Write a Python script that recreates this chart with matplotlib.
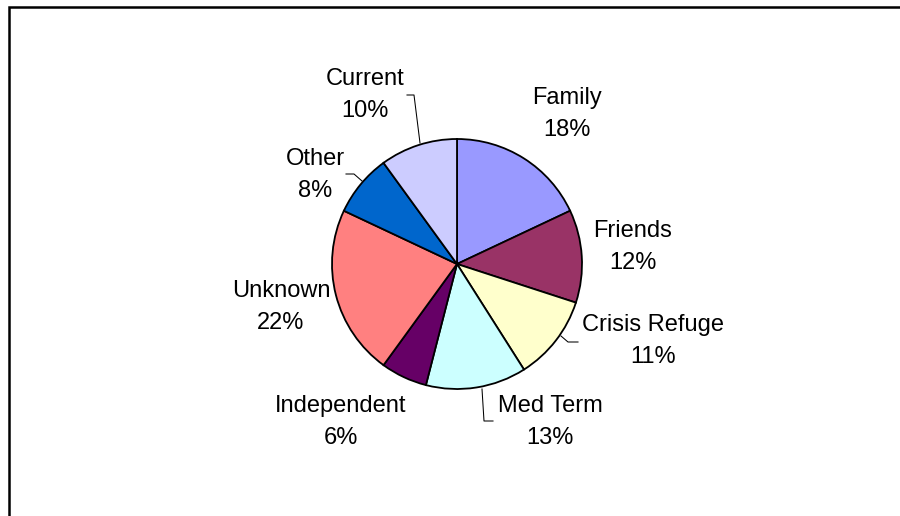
import matplotlib
matplotlib.use("Agg")
import matplotlib.pyplot as plt
from matplotlib.lines import Line2D

# slice data, clockwise from 12 o'clock
categories = ["Family", "Friends", "Crisis Refuge", "Med Term",
              "Independent", "Unknown", "Other", "Current"]
percents = [18, 12, 11, 13, 6, 22, 8, 10]
colors = ["#9999FF", "#993366", "#FFFFCC", "#CCFFFF",
          "#660066", "#FF8080", "#0066CC", "#CCCCFF"]

W, H = 900, 516
fontsize = 17

# label anchor (centre x, first-line baseline), in pixels from top-left
label_pos = [(567, 104), (633, 237), (653, 331), (550, 412),
             (341, 412), (281, 297), (315, 165), (365, 85)]
line_gap = 32

# leader lines, pixel coords
leaders = {
    "Crisis Refuge": [(561, 336), (568, 342), (578, 342)],
    "Med Term": [(482, 389), (484, 421), (493, 421)],
    "Other": [(362, 181), (354, 174), (346, 174)],
    "Current": [(420, 143), (414, 95), (407, 95)],
}

fig = plt.figure(figsize=(W / 100, H / 100), dpi=100)
ax = fig.add_axes([0, 0, 1, 1])

ax.pie(percents, colors=colors, startangle=90, counterclock=False,
       center=(457, H - 264), radius=125, frame=True,
       wedgeprops=dict(edgecolor="black", linewidth=1.3))
ax.set_xlim(0, W)
ax.set_ylim(0, H)
ax.set_aspect("equal")
ax.axis("off")

for name, pct, (x, y) in zip(categories, percents, label_pos):
    ax.text(x, H - y, name, ha="center", va="baseline",
            fontsize=fontsize, family="Liberation Sans")
    ax.text(x, H - y - line_gap, f"{pct}%", ha="center", va="baseline",
            fontsize=fontsize, family="Liberation Sans")

for name, pts in leaders.items():
    xs = [p[0] for p in pts]
    ys = [H - p[1] for p in pts]
    ax.plot(xs, ys, color="black", linewidth=0.75)

# outer chart frame (runs off the right and bottom edges)
frame_pts_x = [8.5, 8.5, W + 5]
frame_pts_y = [-5, H - 7, H - 7]
ax.add_line(Line2D(frame_pts_x, frame_pts_y, color="black", linewidth=1.8,
                   solid_joinstyle="miter", clip_on=False))

fig.savefig("out.png", dpi=100, facecolor="white")
